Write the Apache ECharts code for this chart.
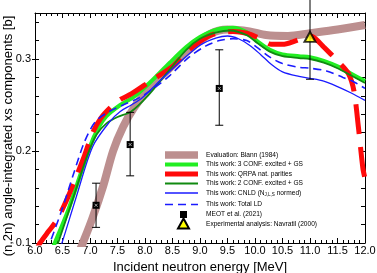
<!DOCTYPE html>
<html>
<head>
<meta charset="utf-8">
<script src="https://cdn.jsdelivr.net/npm/echarts@6/dist/echarts.min.js"></script>
<style>
html,body{margin:0;padding:0;background:#fff;}
#c{width:377px;height:273px;}
</style>
</head>
<body>
<div id="c"></div>
<script>
// ---- data ----
const blannE = [6.80,6.87,7.05,7.24,7.42,7.60,7.80,8.10,8.45,8.80,9.18,9.50,9.90,10.20,10.60,11.00,11.50,12.00];
const blannV = [0.090,0.100,0.128,0.162,0.200,0.226,0.247,0.270,0.290,0.310,0.327,0.332,0.330,0.326,0.325,0.328,0.332,0.337];

const conf3E = [6.30,6.36,6.60,6.80,7.00,7.15,7.30,7.55,7.80,8.10,8.45,8.75,9.00,9.30,9.60,9.85,10.05,10.27,10.50,10.80,11.00,11.25,11.50,11.75,12.00];
const conf3V = [0.091,0.100,0.135,0.170,0.205,0.225,0.238,0.250,0.259,0.275,0.296,0.313,0.324,0.332,0.334,0.329,0.319,0.310,0.305,0.303,0.302,0.298,0.292,0.284,0.276];

const qrpaE = [6.05,6.09,6.25,6.40,6.50,6.60,6.75,6.90,7.05,7.20,7.40,7.55,7.75,8.10,8.50,8.76,8.95,9.20,9.60,9.85,10.10,10.30,10.50,10.75,11.00,11.10,11.25,11.50,11.70,11.80,11.88,11.96,12.00];
const qrpaV = [0.095,0.100,0.113,0.125,0.137,0.150,0.172,0.195,0.220,0.236,0.249,0.256,0.262,0.276,0.292,0.308,0.317,0.326,0.330,0.328,0.322,0.316,0.316,0.320,0.325,0.322,0.313,0.298,0.284,0.265,0.226,0.182,0.170];

const conf2E = [6.36,6.42,6.70,6.95,7.12,7.30,7.50,7.75,8.05,8.40,8.75,9.00,9.30,9.55,9.85,10.05,10.27,10.50,10.80,11.00,11.25,11.50,11.75,12.00];
const conf2V = [0.091,0.100,0.150,0.195,0.218,0.230,0.237,0.243,0.260,0.285,0.310,0.322,0.329,0.331,0.326,0.317,0.308,0.303,0.301,0.300,0.296,0.290,0.282,0.274];

const cnldE = [6.43,6.49,6.75,7.05,7.36,7.55,7.75,7.95,8.30,8.64,9.00,9.30,9.50,9.70,9.90,10.10,10.30,10.50,10.80,11.00,11.25,11.50,11.75,12.00];
const cnldV = [0.091,0.100,0.150,0.205,0.232,0.243,0.250,0.258,0.278,0.297,0.315,0.323,0.325,0.322,0.315,0.305,0.294,0.286,0.281,0.279,0.276,0.270,0.263,0.255];

const totalE = [6.21,6.27,6.50,6.70,6.90,7.10,7.35,7.60,7.90,8.20,8.45,8.80,9.10,9.35,9.60,9.85,10.05,10.27,10.50,10.80,11.00,11.30,11.60,11.80,12.00];
const totalV = [0.091,0.100,0.138,0.175,0.210,0.232,0.243,0.250,0.258,0.270,0.282,0.302,0.314,0.320,0.322,0.320,0.312,0.302,0.295,0.291,0.290,0.287,0.280,0.275,0.268];

const meotE  = [7.11, 7.73, 9.35];
const meotV  = [0.141, 0.207, 0.268];
const meotLo = [0.117, 0.173, 0.228];
const meotHi = [0.165, 0.242, 0.310];

const navE  = [11.0];
const navV  = [0.324];
const navLo = [0.278];
const navHi = [0.370];

const xTickLabels = [6.0,6.5,7.0,7.5,8.0,8.5,9.0,9.5,10.0,10.5,11.0,11.5,12.0];
const yTickLabels = [0.1, 0.2, 0.3];
const yMinorTicks = [0.10,0.12,0.14,0.16,0.18,0.20,0.22,0.24,0.26,0.28,0.30,0.32,0.34];

const yTitle = '(n,2n) angle-integrated xs components [b]';
const xTitle = 'Incident neutron energy [MeV]';
const legendLabels = [
  'Evaluation: Blann (1984)',
  'This work: 3 CONF. excited + GS',
  'This work: QRPA nat. parities',
  'This work: 2 CONF. excited + GS',
  'This work: CNLD (N{sub|J,L,S} normed)',
  'This work: Total LD',
  'MEOT et al. (2021)',
  'Experimental analysis: Navratil (2000)'
];

// ---- build ----
const zip = (a, b) => a.map((v, i) => [v, b[i]]);
const FONT = '"Liberation Sans", Arial, Helvetica, sans-serif';
const C = {
  blann: '#bc8f8f', conf3: '#22ee22', qrpa: '#ff0a0a', conf2: '#108a10', cnld: '#1a1aff', total: '#1a1aff'
};

const chart = echarts.init(document.getElementById('c'), null, {renderer: 'canvas'});

function errRender(params, api) {
  const x = api.value(0), lo = api.value(2), hi = api.value(3);
  const pLo = api.coord([x, lo]), pHi = api.coord([x, hi]);
  const cw = 4;
  const st = {stroke: '#000', lineWidth: 1};
  return {
    type: 'group',
    children: [
      {type: 'line', shape: {x1: pLo[0], y1: pLo[1], x2: pHi[0], y2: pHi[1]}, style: st},
      {type: 'line', shape: {x1: pLo[0]-cw, y1: pLo[1], x2: pLo[0]+cw, y2: pLo[1]}, style: st},
      {type: 'line', shape: {x1: pHi[0]-cw, y1: pHi[1], x2: pHi[0]+cw, y2: pHi[1]}, style: st}
    ]
  };
}
function squareRender(params, api) {
  const p = api.coord([api.value(0), api.value(1)]);
  const s = 3.5;
  return {
    type: 'group',
    children: [
      {type: 'rect', shape: {x: p[0]-s, y: p[1]-s, width: 2*s, height: 2*s}, style: {fill: '#000'}},
      {type: 'line', shape: {x1: p[0]-1.5, y1: p[1]-1.5, x2: p[0]+1.5, y2: p[1]+1.5}, style: {stroke: '#ccc', lineWidth: 0.8}},
      {type: 'line', shape: {x1: p[0]-1.5, y1: p[1]+1.5, x2: p[0]+1.5, y2: p[1]-1.5}, style: {stroke: '#ccc', lineWidth: 0.8}}
    ]
  };
}

const lineBase = {type: 'line', showSymbol: false, symbol: 'none', smooth: 0.3, clip: true, silent: true, animation: false};

// legend + title graphics
const LX0 = 165, LX1 = 198, TX = 206;
const rowsY = [155, 164.5, 174, 183.5, 193, 204.5, 214.5, 224];
const graphics = [];
graphics.push({type: 'text', x: 8, y: 136, rotation: Math.PI / 2,
  style: {text: yTitle, fill: '#000', font: '13px ' + FONT, align: 'center', verticalAlign: 'middle'}});
graphics.push({type: 'rect', shape: {x: LX0, y: rowsY[0]-3.8, width: LX1-LX0, height: 7.6}, style: {fill: C.blann}});
graphics.push({type: 'line', shape: {x1: LX0, y1: rowsY[1], x2: LX1, y2: rowsY[1]}, style: {stroke: C.conf3, lineWidth: 4}});
graphics.push({type: 'line', shape: {x1: LX0, y1: rowsY[2], x2: LX1, y2: rowsY[2]}, style: {stroke: C.qrpa, lineWidth: 5}});
graphics.push({type: 'line', shape: {x1: LX0, y1: rowsY[3], x2: LX1, y2: rowsY[3]}, style: {stroke: C.conf2, lineWidth: 2}});
graphics.push({type: 'line', shape: {x1: LX0, y1: rowsY[4], x2: LX1, y2: rowsY[4]}, style: {stroke: C.cnld, lineWidth: 1.4}});
graphics.push({type: 'line', shape: {x1: LX0, y1: rowsY[5], x2: LX1, y2: rowsY[5]}, style: {stroke: C.total, lineWidth: 1.6, lineDash: [8, 5]}});
graphics.push({type: 'rect', shape: {x: 180, y: rowsY[6]-3.5, width: 7, height: 7}, style: {fill: '#000'}});
graphics.push({type: 'polygon', shape: {points: [[183.5, rowsY[7]-5.5], [189, rowsY[7]+4.5], [178, rowsY[7]+4.5]]}, style: {fill: '#ffff00', stroke: '#000', lineWidth: 2}});
legendLabels.forEach((t, i) => {
  graphics.push({
    type: 'text', x: TX, y: rowsY[i],
    style: {text: t, fill: '#000', font: '6.6px ' + FONT, verticalAlign: 'middle', align: 'left',
      rich: {sub: {fontSize: 4.5, fontFamily: FONT, verticalAlign: 'bottom', padding: [4, 0, 0, 0]}}}
  });
});

const axisLine = {show: true, lineStyle: {color: '#000', width: 1}};
const option = {
  backgroundColor: '#fff',
  animation: false,
  grid: {left: 35, right: 12, top: 13, bottom: 30, containLabel: false, outerBoundsMode: 'none'},
  xAxis: [
    {type: 'value', min: 6, max: 12, interval: 0.5, position: 'bottom',
     axisLine, splitLine: {show: false},
     axisTick: {show: true, inside: true, length: 5, lineStyle: {color: '#000'}},
     minorTick: {show: true, splitNumber: 5, length: 3, lineStyle: {color: '#000'}},
     axisLabel: {show: true, margin: 2, color: '#000', fontSize: 11, fontFamily: FONT,
       customValues: xTickLabels, formatter: v => v.toFixed(1)},
     name: xTitle, nameLocation: 'middle', nameGap: 15,
     nameTextStyle: {color: '#000', fontSize: 13, fontFamily: FONT}},
    {type: 'value', min: 6, max: 12, interval: 0.5, position: 'top',
     axisLine, splitLine: {show: false},
     axisTick: {show: true, inside: true, length: 5, lineStyle: {color: '#000'}},
     minorTick: {show: true, splitNumber: 5, length: 3, lineStyle: {color: '#000'}},
     axisLabel: {show: false}}
  ],
  yAxis: [
    {type: 'value', min: 0.1, max: 0.35, position: 'left',
     axisLine, splitLine: {show: false},
     axisTick: {show: true, inside: true, length: 4, customValues: yMinorTicks, lineStyle: {color: '#000'}},
     axisLabel: {show: true, margin: 4, color: '#000', fontSize: 11, fontFamily: FONT,
       customValues: yTickLabels, formatter: v => v.toFixed(1)}},
    {type: 'value', min: 0.1, max: 0.35, position: 'right',
     axisLine, splitLine: {show: false},
     axisTick: {show: true, inside: true, length: 4, customValues: yMinorTicks, lineStyle: {color: '#000'}},
     axisLabel: {show: false}},
    {type: 'value', min: 0.1, max: 0.35, position: 'left',
     axisLine: {show: false}, splitLine: {show: false},
     axisTick: {show: true, inside: false, length: 3, customValues: yTickLabels, lineStyle: {color: '#000'}},
     axisLabel: {show: false}}
  ],
  graphic: graphics,
  series: [
    Object.assign({}, lineBase, {name: 'Blann', data: zip(blannE, blannV), z: 1,
      lineStyle: {color: C.blann, width: 8, cap: 'butt'}}),
    Object.assign({}, lineBase, {name: '3 CONF', data: zip(conf3E, conf3V), z: 2,
      lineStyle: {color: C.conf3, width: 4}}),
    Object.assign({}, lineBase, {name: 'QRPA', data: zip(qrpaE, qrpaV), z: 3,
      lineStyle: {color: C.qrpa, width: 5, type: [30, 13], cap: 'butt'}}),
    Object.assign({}, lineBase, {name: '2 CONF', data: zip(conf2E, conf2V), z: 4,
      lineStyle: {color: C.conf2, width: 1.8}}),
    Object.assign({}, lineBase, {name: 'CNLD', data: zip(cnldE, cnldV), z: 5,
      lineStyle: {color: C.cnld, width: 1.3}}),
    Object.assign({}, lineBase, {name: 'Total LD', data: zip(totalE, totalV), z: 6,
      lineStyle: {color: C.total, width: 1.6, type: [8, 5]}}),
    {type: 'custom', name: 'MEOT err', z: 7, clip: false, silent: true,
     data: meotE.map((e, i) => [e, meotV[i], meotLo[i], meotHi[i]]), renderItem: errRender},
    {type: 'custom', name: 'MEOT', z: 8, clip: false, silent: true,
     data: zip(meotE, meotV), renderItem: squareRender},
    {type: 'custom', name: 'Navratil err', z: 7, clip: false, silent: true,
     data: navE.map((e, i) => [e, navV[i], navLo[i], navHi[i]]), renderItem: errRender},
    {type: 'scatter', name: 'Navratil', z: 9, silent: true,
     data: zip(navE, navV), symbol: 'triangle', symbolSize: [11, 10],
     itemStyle: {color: '#ffff00', borderColor: '#000', borderWidth: 2}}
  ]
};
chart.setOption(option);
</script>
</body>
</html>
